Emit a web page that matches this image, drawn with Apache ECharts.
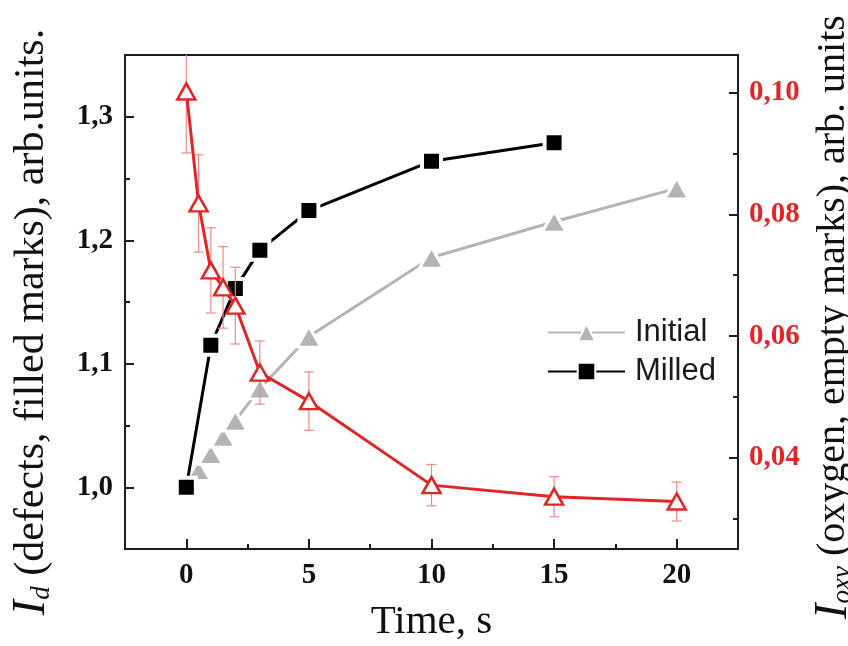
<!DOCTYPE html>
<html>
<head>
<meta charset="utf-8">
<script src="https://cdn.jsdelivr.net/npm/echarts@6/dist/echarts.min.js"></script>
<style>html,body{margin:0;padding:0;background:#fff;}#c{width:848px;height:646px;}</style>
</head>
<body>
<div id="c"></div>
<script>
// ---- data ----
const timeMilled = [0, 1, 2, 3, 5, 10, 15];
const milled = [1.000, 1.115, 1.161, 1.192, 1.224, 1.264, 1.279];

const timeInitial = [0.5, 1, 1.5, 2, 3, 5, 10, 15, 20];
const initial = [1.014, 1.027, 1.041, 1.054, 1.080, 1.122, 1.186, 1.215, 1.242];

const timeOxygen = [0, 0.5, 1, 1.5, 2, 3, 5, 10, 15, 20];
const oxygen = [0.1002, 0.0818, 0.0708, 0.0680, 0.0650, 0.0540, 0.0493, 0.0355, 0.0336, 0.0328];
const oxygenErr = [0.0101, 0.0080, 0.0070, 0.0067, 0.0063, 0.0052, 0.0048, 0.0034, 0.0033, 0.0032];

// ---- tick labels ----
const xMajor = [0, 5, 10, 15, 20];
const xMinor = [2.5, 7.5, 12.5, 17.5];
const leftMajor = [1.0, 1.1, 1.2, 1.3];
const leftMinor = [1.05, 1.15, 1.25];
const rightMajor = [0.04, 0.06, 0.08, 0.10];
const rightMinor = [0.03, 0.05, 0.07, 0.09];

const zip = (xs, ys) => xs.map((x, i) => [x, ys[i]]);

const SERIF = "'Liberation Serif', 'Times New Roman', serif";
const SANS = "'Liberation Sans', Arial, sans-serif";
const FRAME = '#1e1e1e';
const RED = '#e02626';

const chart = echarts.init(document.getElementById('c'), null, {renderer: 'canvas'});

const tickLabel = {fontFamily: SERIF, fontSize: 29, fontWeight: 'bold', color: '#111'};
const titleRich = {
  i: {fontFamily: SERIF, fontStyle: 'italic', fontSize: 46, color: '#111'},
  s: {fontFamily: SERIF, fontStyle: 'italic', fontSize: 27, color: '#111', verticalAlign: 'bottom'}
};

chart.setOption({
  animation: false,
  backgroundColor: '#fff',
  grid: {left: 125, right: 110, top: 55, bottom: 97, show: true, borderColor: FRAME, borderWidth: 2, outerBoundsMode: 'none'},
  legend: {
    data: ['Initial', 'Milled'],
    orient: 'vertical',
    left: 542, top: 312,
    itemWidth: 77, itemHeight: 22, itemGap: 8,
    textStyle: {fontFamily: SANS, fontSize: 31, color: '#1a1a1a', padding: [0, 0, 0, 5]}
  },
  xAxis: [
    {
      type: 'value', min: -2.5, max: 22.5, position: 'bottom',
      axisLine: {show: true, onZero: false, lineStyle: {color: FRAME, width: 2}},
      axisTick: {show: true, inside: true, length: 10, customValues: xMajor, lineStyle: {color: FRAME, width: 2}},
      axisLabel: Object.assign({customValues: xMajor, margin: 12}, tickLabel),
      splitLine: {show: false},
      name: 'Time, s', nameLocation: 'middle', nameGap: 53,
      nameTextStyle: {fontFamily: SERIF, fontSize: 41, color: '#111'}
    },
    {
      type: 'value', min: -2.5, max: 22.5, position: 'bottom',
      axisLine: {show: false, onZero: false},
      axisTick: {show: true, inside: true, length: 5, customValues: xMinor, lineStyle: {color: FRAME, width: 2}},
      axisLabel: {show: false}, splitLine: {show: false}
    }
  ],
  yAxis: [
    {
      type: 'value', min: 0.95, max: 1.35, position: 'left',
      axisLine: {show: true, onZero: false, lineStyle: {color: FRAME, width: 2}},
      axisTick: {show: true, inside: true, length: 9, customValues: leftMajor, lineStyle: {color: FRAME, width: 2}},
      axisLabel: Object.assign({customValues: leftMajor, margin: 12, formatter: v => v.toFixed(1).replace('.', ',')}, tickLabel),
      splitLine: {show: false},
      name: '{i|I}{s|d} (defects, filled marks), arb.units.',
      nameLocation: 'middle', nameRotate: 90, nameGap: 70,
      nameTextStyle: {fontFamily: SERIF, fontSize: 42, color: '#111', padding: [0, 40, 0, 0], rich: titleRich}
    },
    {
      type: 'value', min: 0.95, max: 1.35, position: 'left',
      axisLine: {show: false, onZero: false},
      axisTick: {show: true, inside: true, length: 5, customValues: leftMinor, lineStyle: {color: FRAME, width: 2}},
      axisLabel: {show: false}, splitLine: {show: false}
    },
    {
      type: 'value', min: 0.025, max: 0.1062, position: 'right',
      axisLine: {show: true, onZero: false, lineStyle: {color: FRAME, width: 2}},
      axisTick: {show: true, inside: true, length: 9, customValues: rightMajor, lineStyle: {color: FRAME, width: 2}},
      axisLabel: Object.assign({}, tickLabel, {customValues: rightMajor, margin: 11, color: RED, formatter: v => v.toFixed(2).replace('.', ',')}),
      splitLine: {show: false},
      name: '{i|I}{s|oxv} (oxygen, empty marks), arb. units',
      nameLocation: 'middle', nameRotate: 90, nameGap: 64,
      nameTextStyle: {fontFamily: SERIF, fontSize: 40, color: '#111', padding: [0, 30, 0, 0], rich: titleRich}
    },
    {
      type: 'value', min: 0.025, max: 0.1062, position: 'right',
      axisLine: {show: false, onZero: false},
      axisTick: {show: true, inside: true, length: 5, customValues: rightMinor, lineStyle: {color: FRAME, width: 2}},
      axisLabel: {show: false}, splitLine: {show: false}
    }
  ],
  series: [
    {
      name: 'Initial', type: 'line', xAxisIndex: 0, yAxisIndex: 0,
      data: zip(timeInitial, initial),
      symbol: 'triangle', symbolSize: [24, 21],
      lineStyle: {color: '#b4b4b4', width: 3},
      itemStyle: {color: '#b4b4b4', borderColor: '#fff', borderWidth: 3},
      z: 2
    },
    {
      name: 'Milled', type: 'line', xAxisIndex: 0, yAxisIndex: 0,
      data: zip(timeMilled, milled),
      symbol: 'rect', symbolSize: 19,
      lineStyle: {color: '#000', width: 3},
      itemStyle: {color: '#000', borderColor: '#fff', borderWidth: 4},
      z: 3
    },
    {
      name: 'OxygenErr', type: 'custom', xAxisIndex: 0, yAxisIndex: 2, clip: true,
      data: timeOxygen.map((t, i) => [t, oxygen[i] - oxygenErr[i], oxygen[i] + oxygenErr[i]]),
      renderItem: function (params, api) {
        const lo = api.coord([api.value(0), api.value(1)]);
        const hi = api.coord([api.value(0), api.value(2)]);
        const hw = 5;
        const st = {stroke: '#ee8a8a', lineWidth: 1.2};
        return {
          type: 'group',
          children: [
            {type: 'line', shape: {x1: lo[0], y1: lo[1], x2: hi[0], y2: hi[1]}, style: st},
            {type: 'line', shape: {x1: lo[0] - hw, y1: lo[1], x2: lo[0] + hw, y2: lo[1]}, style: st},
            {type: 'line', shape: {x1: hi[0] - hw, y1: hi[1], x2: hi[0] + hw, y2: hi[1]}, style: st}
          ]
        };
      },
      z: 4
    },
    {
      name: 'Oxygen', type: 'line', xAxisIndex: 0, yAxisIndex: 2,
      data: zip(timeOxygen, oxygen),
      symbol: 'triangle', symbolSize: [18, 16],
      lineStyle: {color: RED, width: 3},
      itemStyle: {color: '#fff', borderColor: RED, borderWidth: 2.5},
      z: 5
    }
  ]
});
</script>
</body>
</html>
